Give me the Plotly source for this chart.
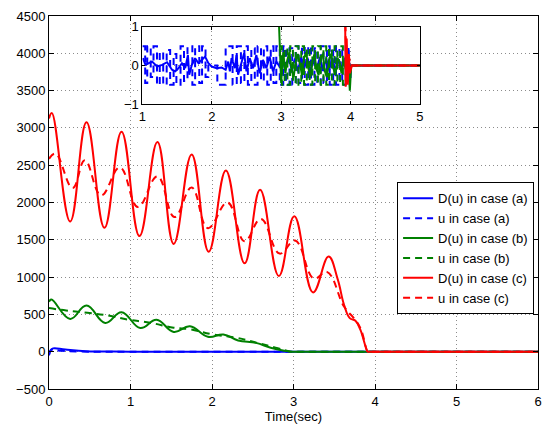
import plotly.graph_objects as go

# ---------------- main plot data ----------------
t_Da = [0, 0.02, 0.05, 0.2, 0.45, 0.7, 1.0, 6]
v_Da = [-50, 20, 45, 28, 5, 2, 0, 0]
t_ua = [0, 0.03, 0.15, 0.4, 1.0, 6]
v_ua = [-40, 25, 12, 2, 0, 0]

t_Db = [0, 0.03, 0.26, 0.46, 0.69, 0.89, 1.12, 1.32, 1.53, 1.73, 1.95, 2.14, 2.32, 2.54, 2.72, 2.89, 2.97,
        3.0, 3.3, 6]
v_Db = [670, 700, 440, 618, 386, 530, 318, 428, 265, 340, 200, 230, 150, 118, 52, 12, 0,
        0, 0, 0]
t_ub = [0, 0.21, 0.47, 0.76, 0.96, 1.24, 1.53, 1.73, 2.01, 2.30, 2.54, 2.78, 2.97, 3.0, 3.3, 6]
v_ub = [585, 552, 522, 478, 432, 388, 322, 300, 232, 188, 122, 55, 0, 0, 0, 0]

t_Dc = [0, 0.035, 0.26, 0.46, 0.68, 0.89, 1.11, 1.33, 1.53, 1.75, 1.96, 2.17, 2.40, 2.59, 2.82,
        3.01, 3.24, 3.43, 3.54, 3.62, 3.69, 3.76, 3.82, 3.91, 3.92, 3.96, 4.2, 6]
v_Dc = [3125, 3200, 1745, 3075, 1660, 2950, 1550, 2810, 1445, 2645, 1340, 2430, 1185, 2170, 1015,
        1815, 795, 1275, 980, 630, 450, 415, 295, 0, 0, 0, 0, 0]
t_uc = [0, 0.08, 0.29, 0.44, 0.64, 0.87, 1.09, 1.33, 1.54, 1.75, 1.95, 2.19, 2.40, 2.60, 2.83,
        3.02, 3.25, 3.41, 3.62, 3.74, 3.82, 3.91, 3.92, 3.96, 4.2, 6]
v_uc = [2585, 2655, 2195, 2565, 2095, 2470, 1940, 2350, 1805, 2200, 1655, 2000, 1480, 1780, 1315,
        1490, 980, 1070, 605, 450, 320, 0, 0, 0, 0, 0]

# ---------------- inset (zoom 1..5 s) data ----------------
ti_Da = [1.007, 1.045, 1.093, 1.141, 1.212, 1.284, 1.355, 1.427, 1.474, 1.522, 1.57, 1.617, 1.656,
         1.675, 1.713, 1.76, 1.808, 1.856, 1.904, 1.951, 1.999, 2.07, 2.142, 2.2, 2.237, 2.261, 2.285,
         2.333, 2.357, 2.38, 2.428, 2.466, 2.5, 2.547, 2.595, 2.643, 2.69, 2.738, 2.786, 2.834, 2.882,
         2.93, 2.977, 3.02, 3.06, 3.11, 3.15, 3.2, 3.24, 3.29, 3.33, 3.38, 3.42, 3.47, 3.51, 3.56, 3.6,
         3.65, 3.69, 3.74, 3.78, 3.83, 3.87, 3.92, 3.95, 3.97, 3.99, 4.01, 5.0]
vi_Da = [0.19, 0.017, 0.06, 0.1, -0.026, 0.017, 0.085, -0.11, -0.15, -0.068, 0.06, -0.068, 0.27,
         -0.24, 0.017, 0.19, 0.06, 0.145, 0.23, 0.06, -0.026, -0.068, -0.05, -0.11, 0.1, -0.15, 0.19,
         -0.068, 0.27, -0.24, 0.1, 0.316, -0.15, 0.19, -0.068, 0.27, -0.2, 0.145, -0.068, 0.23, -0.15,
         0.1, -0.026, 0.15, -0.12, 0.2, -0.1, 0.18, -0.15, 0.22, -0.08, 0.2, -0.16, 0.15, -0.1, 0.22,
         -0.14, 0.18, -0.12, 0.2, -0.15, 0.16, -0.1, 0.2, -0.15, 0.45, -0.3, 0.0, 0.0]

ti_ua = [1.00, 1.04, 1.07, 1.12, 1.16, 1.21, 1.25, 1.30, 1.35, 1.40, 1.45, 1.49, 1.55, 1.60, 1.65,
         1.72, 1.76, 1.82, 1.86, 1.91, 1.95, 2.08, 2.20, 2.30, 2.36, 2.42, 2.47, 2.52, 2.57, 2.62,
         2.66, 2.71, 2.75, 2.80, 2.85, 2.89, 2.93, 2.98, 3.03, 3.07, 3.12, 3.16, 3.21, 3.25, 3.30,
         3.34, 3.39, 3.43, 3.48, 3.52, 3.57, 3.61, 3.66, 3.70, 3.75, 3.79, 3.84, 3.88, 3.93, 3.97,
         4.00, 5.00]
vi_ua = [0.5, -0.45, 0.5, -0.3, 0.5, -0.5, 0.35, -0.5, 0.4, -0.5, 0.3, -0.5, 0.5, -0.4, 0.5,
         -0.5, 0.5, -0.45, 0.5, -0.3, 0.0, -0.5, 0.5, -0.5, 0.5, -0.45, 0.5, -0.5, 0.45, -0.5,
         0.5, -0.4, 0.5, -0.5, 0.5, -0.45, 0.5, -0.5, 0.5, -0.5, 0.45, -0.5, 0.5, -0.45, 0.5,
         -0.5, 0.5, -0.5, 0.45, -0.5, 0.5, -0.45, 0.5, -0.5, 0.5, -0.5, 0.45, -0.5, 0.5, -0.4,
         0.0, 0.0]

ti_Db = [2.96, 2.985, 3.00, 3.03, 3.06, 3.09, 3.12, 3.15, 3.18, 3.21, 3.24, 3.27, 3.30, 3.33, 3.36,
         3.39, 3.42, 3.45, 3.48, 3.51, 3.54, 3.57, 3.60, 3.63, 3.66, 3.69, 3.72, 3.75, 3.78, 3.81,
         3.84, 3.87, 3.90, 3.93, 3.96, 3.99, 4.01, 5.00]
vi_Db = [1.5, 0.4, -0.45, 0.35, -0.2, 0.15, 0.35, -0.1, -0.3, 0.1, 0.3, 0.05, -0.25, 0.2, 0.35,
         -0.05, -0.3, 0.1, 0.3, -0.1, -0.25, 0.2, 0.3, -0.15, -0.3, 0.15, 0.3, -0.05, -0.25, 0.2,
         0.1, -0.2, 0.15, -0.1, 0.2, -0.65, 0.0, 0.0]

ti_ub = [2.97, 3.01, 3.05, 3.09, 3.13, 3.17, 3.21, 3.25, 3.29, 3.33, 3.37, 3.41, 3.45, 3.49, 3.53,
         3.57, 3.61, 3.65, 3.69, 3.73, 3.77, 3.81, 3.85, 3.89, 3.93, 5.00]
vi_ub = [0.5, -0.5, 0.45, -0.5, 0.5, -0.45, 0.5, -0.5, 0.5, -0.5, 0.45, -0.5, 0.5, -0.45, 0.5,
         -0.5, 0.5, -0.5, 0.45, -0.5, 0.5, -0.45, 0.5, -0.5, 0.0, 0.0]

ti_Dc = [3.915, 3.93, 3.945, 3.96, 3.975, 3.99, 4.02, 5.0]
vi_Dc = [3.0, -0.55, 0.7, -0.5, 0.3, -0.2, 0.0, 0.0]
ti_uc = [3.915, 3.945, 3.97, 4.0, 5.0]
vi_uc = [2.0, -0.4, 0.3, 0.0, 0.0]

names = ["D(u) in case (a)", "u in case (a)", "D(u) in case (b)",
         "u in case (b)", "D(u) in case (c)", "u in case (c)"]
colors = ["#0000ff", "#0000ff", "#008000", "#008000", "#ff0000", "#ff0000"]
dashes = ["solid", "7px,5px", "solid", "7px,5px", "solid", "7px,5px"]

main_t = [t_Da, t_ua, t_Db, t_ub, t_Dc, t_uc]
main_v = [v_Da, v_ua, v_Db, v_ub, v_Dc, v_uc]
ins_t = [ti_Da, ti_ua, ti_Db, ti_ub, ti_Dc, ti_uc]
ins_v = [vi_Da, vi_ua, vi_Db, vi_ub, vi_Dc, vi_uc]
ins_shape = ["linear", "hv", "linear", "hv", "linear", "linear"]

x_ticks = [0, 1, 2, 3, 4, 5, 6]
y_ticks = [-500, 0, 500, 1000, 1500, 2000, 2500, 3000, 3500, 4000, 4500]
xi_ticks = [1, 2, 3, 4, 5]
yi_ticks = [-1, 0, 1]

FONT = "Liberation Sans, Arial, Helvetica, sans-serif"

fig = go.Figure()
for i in range(6):
    fig.add_trace(go.Scatter(
        x=main_t[i], y=main_v[i], mode="lines", name=names[i],
        line=dict(color=colors[i], width=2, dash=dashes[i], shape="spline", smoothing=1.2),
        xaxis="x", yaxis="y", hoverinfo="skip"))
for i in range(6):
    fig.add_trace(go.Scatter(
        x=ins_t[i], y=ins_v[i], mode="lines", showlegend=False,
        line=dict(color=colors[i], width=2, dash=dashes[i], shape=ins_shape[i]),
        xaxis="x2", yaxis="y2", hoverinfo="skip"))

inset_x = [0.191, 0.7585]
inset_y = [0.7637, 0.9708]

axis_common = dict(showline=True, linecolor="black", linewidth=1, mirror="ticks",
                   ticks="inside", tickcolor="black", showgrid=True, gridcolor="#8c8c8c",
                   griddash="1px,3px", gridwidth=1, zeroline=False,
                   tickfont=dict(family=FONT, size=13, color="black"))

fig.update_layout(
    width=549, height=427,
    margin=dict(l=49, r=7, t=16, b=34),
    paper_bgcolor="white", plot_bgcolor="white",
    font=dict(family=FONT, size=13, color="black"),
    xaxis=dict(range=[0, 6], tickvals=x_ticks, ticklen=5, domain=[0, 1],
               title=dict(text="Time(sec)", font=dict(family=FONT, size=13), standoff=2),
               **axis_common),
    yaxis=dict(range=[-500, 4500], tickvals=y_ticks, ticklen=5, domain=[0, 1],
               **axis_common),
    xaxis2=dict(range=[1, 5], tickvals=xi_ticks, ticklen=3, domain=inset_x,
                anchor="y2", **axis_common),
    yaxis2=dict(range=[-1, 1], tickvals=yi_ticks, ticklen=3, domain=inset_y,
                anchor="x2", **axis_common),
    legend=dict(x=0.992, y=0.2003, xanchor="right", yanchor="bottom",
                bgcolor="white", bordercolor="black", borderwidth=1,
                font=dict(family=FONT, size=13, color="black"),
                tracegroupgap=0, itemwidth=30),
    showlegend=True,
)

fig.write_html("out.html")
